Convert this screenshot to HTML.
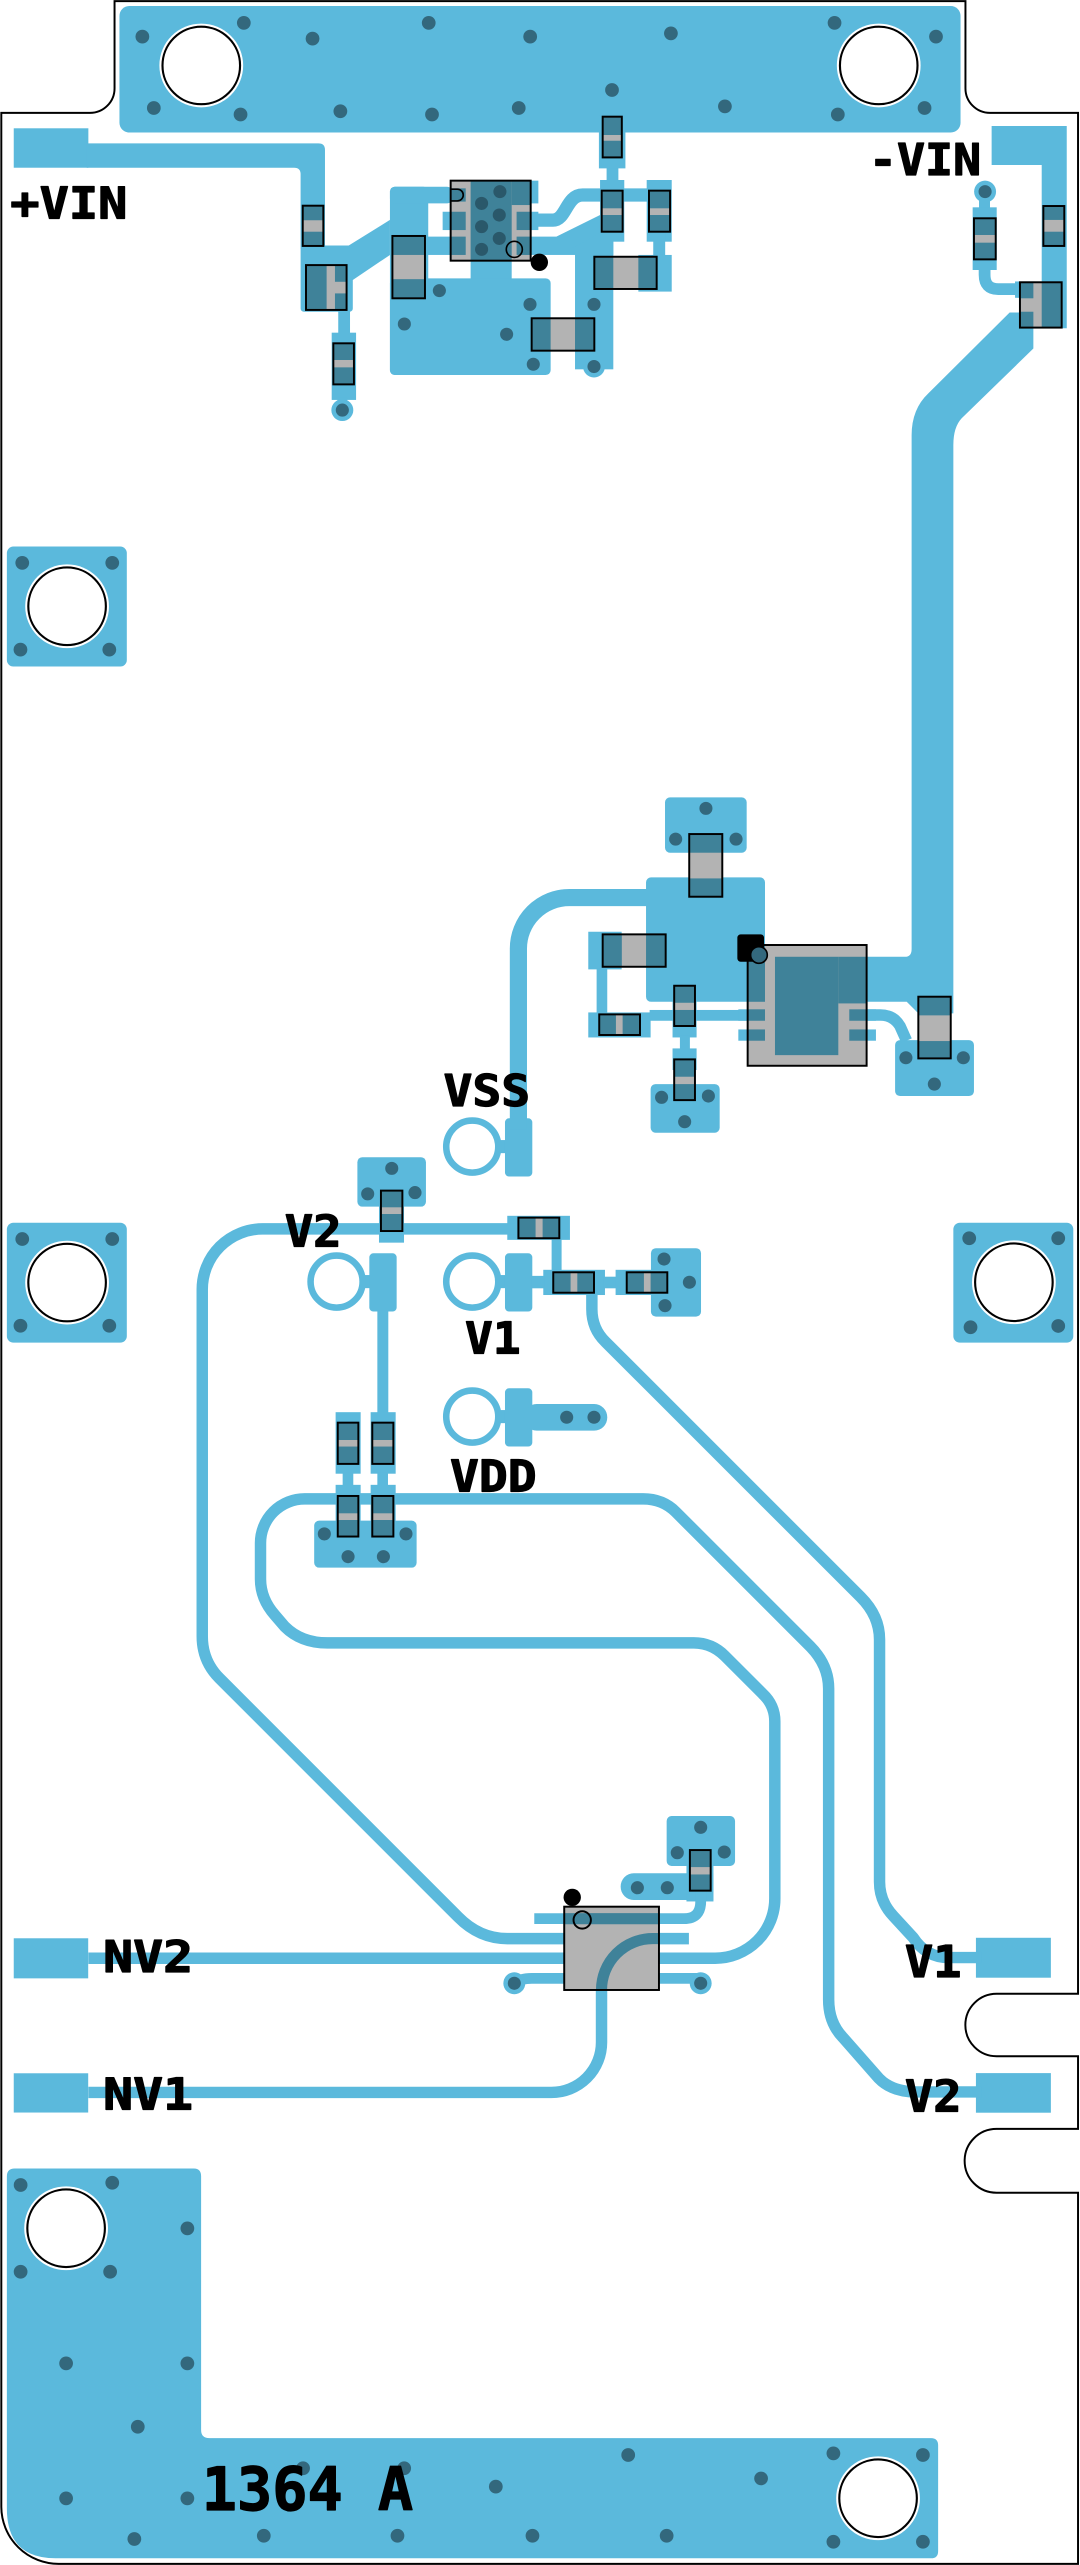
<!DOCTYPE html>
<html><head><meta charset="utf-8">
<style>
html,body{margin:0;padding:0;background:#fff;}
svg{display:block;}
text{font-family:"DejaVu Sans Mono","Liberation Mono",monospace;font-weight:bold;fill:#000;stroke:#000;stroke-width:0.7;stroke-linejoin:round;}
</style></head><body>
<svg width="1080" height="2565" viewBox="0 0 660 1567.5" preserveAspectRatio="none" xmlns="http://www.w3.org/2000/svg">
<defs>
<clipPath id="u3c"><rect x="344.8" y="1165.2" width="57.9" height="50.9"/></clipPath>
</defs>
<!-- board outline -->
<path d="M70,0.7 H590 V54 A15 15 0 0 0 605 69 H658.8 V1218.4 H609 A19.1 19.1 0 0 0 609 1256.6 H658.8 V1301 H609 A19.5 19.5 0 0 0 609 1340 H658.8 V1566.8 H36 A35 35 0 0 1 0.8 1532 V69 H55 A15 15 0 0 0 70 54 Z" fill="#fff" stroke="#000" stroke-width="1.2"/>

<!-- COPPER -->
<g fill="#5bb9dc">
<rect x="73" y="3.7" width="514" height="77.3" rx="6"/>
<!-- +VIN -->
<rect x="8.4" y="78.4" width="45.6" height="24.1"/>
<path d="M53,87.6 H194.6 Q198.6,87.6 198.6,91.6 V152 H183.7 V106.5 Q183.7,102.5 179.7,102.5 H53 Z"/>
<rect x="183.7" y="150" width="31.9" height="40.5" rx="2"/>
<polygon points="212,150.7 238.3,134.4 238.3,155.8 215.6,171.1 212,171.1"/>
<rect x="206.7" y="189" width="7.2" height="15"/>
<rect x="202.7" y="203.3" width="14.9" height="41.1"/>
<rect x="206.2" y="243" width="6" height="8"/>
<circle cx="209.2" cy="250.6" r="6.7"/>
<!-- U1 region -->
<rect x="238.3" y="114.1" width="23.4" height="115.1" rx="3"/>
<rect x="238.3" y="114.1" width="38" height="10.2" rx="3"/>
<rect x="261" y="144.6" width="113.8" height="11.2"/>
<rect x="287.6" y="155" width="25.1" height="16"/>
<rect x="238.3" y="170.1" width="98.2" height="59.1" rx="3"/>
<rect x="351.4" y="142" width="23.4" height="83.7"/>
<circle cx="363" cy="224" r="6.7"/>
<rect x="324" y="110.4" width="5" height="13.9"/>
<rect x="270.5" y="129.4" width="5" height="11.2"/>
<rect x="324" y="129.4" width="5" height="11.2"/>
<rect x="366.7" y="110" width="14.8" height="37.7"/>
<rect x="370.7" y="95" width="7.2" height="16"/>
<rect x="366" y="70.3" width="16.2" height="32.6"/>
<rect x="395.2" y="110" width="15.3" height="37.7"/>
<rect x="399.2" y="141.6" width="7.3" height="16"/>
<rect x="390.1" y="155.8" width="20.4" height="22.4"/>
<polygon points="340,144.6 366.7,131.4 366.7,142.5 350,151.5"/>
<!-- -VIN -->
<path d="M606,77 H651.9 V200.6 H636.6 V100.8 H606 Z"/>
<circle cx="602" cy="117.1" r="6.7"/>
<rect x="598.3" y="117" width="6.7" height="12"/>
<rect x="594.4" y="126.7" width="14.7" height="38.3"/>
<rect x="620.3" y="172" width="12" height="10"/>
<path d="M617,191 H631.5 V213 L587.7,255.6 Q582.6,261 582.6,272 V619.3 H561.2 L554.1,612.2 H529.6 V584.7 H553 Q557.1,584.7 557.1,580 V266 Q557.1,250 567.3,240.4 Z"/>
<!-- converter -->
<rect x="394.8" y="536.2" width="72.7" height="76" rx="3"/>
<rect x="406.4" y="487.3" width="49.9" height="33.8" rx="3"/>
<rect x="359.5" y="569.4" width="20.4" height="23"/>
<rect x="364.6" y="592" width="6.5" height="28"/>
<rect x="359.5" y="618.7" width="38.1" height="15.3"/>
<rect x="397" y="617.2" width="70.5" height="6.6"/>
<rect x="411" y="602.4" width="14.7" height="31.6"/>
<rect x="415.5" y="633" width="6.1" height="9"/>
<rect x="411" y="640.7" width="14.7" height="13.2"/>
<rect x="397.6" y="662.5" width="42.2" height="29.7" rx="3"/>
<rect x="451.2" y="616.8" width="16.3" height="7"/>
<rect x="451.2" y="629.1" width="16.3" height="6.9"/>
<rect x="519" y="616.8" width="16.3" height="7"/>
<rect x="519" y="629.1" width="16.3" height="6.9"/>
<rect x="547" y="635.6" width="48.2" height="34.2" rx="3"/>
<!-- test points -->
<rect x="304" y="696.7" width="5" height="8"/>
<rect x="308.6" y="683.4" width="16.7" height="35.6" rx="2.5"/>
<rect x="221" y="779.2" width="5" height="8"/>
<rect x="225.7" y="765.9" width="16.7" height="35.6" rx="2.5"/>
<rect x="304" y="779.2" width="5" height="8"/>
<rect x="308.6" y="765.9" width="16.7" height="35.6" rx="2.5"/>
<rect x="304" y="861.7" width="5" height="8"/>
<rect x="308.6" y="848.4" width="16.7" height="35.6" rx="2.5"/>
<rect x="320" y="858" width="51.1" height="16.3" rx="8"/>
<rect x="218.4" y="707.2" width="41.9" height="30.2" rx="3"/>
<rect x="231.6" y="727.6" width="15.3" height="31.8"/>
<rect x="310" y="743" width="38.3" height="14.7"/>
<rect x="337.1" y="756" width="6.1" height="22"/>
<rect x="332" y="776" width="37.7" height="15.4"/>
<rect x="325" y="779.7" width="8" height="7.6"/>
<rect x="369" y="780.2" width="8" height="7.1"/>
<rect x="376.2" y="776" width="22" height="15.4"/>
<rect x="397.8" y="762.8" width="30.6" height="41.8" rx="3"/>
<rect x="230.6" y="801" width="6.7" height="63"/>
<rect x="205.1" y="863" width="15.3" height="37.6"/>
<rect x="226.5" y="863" width="15.3" height="37.6"/>
<rect x="209.4" y="900" width="6.5" height="8.5"/>
<rect x="230.6" y="900" width="6.5" height="8.5"/>
<rect x="205.1" y="907.4" width="15.3" height="31.6"/>
<rect x="226.5" y="907.4" width="15.3" height="31.6"/>
<rect x="192" y="929.3" width="62.6" height="28.7" rx="3"/>
<!-- U3 area -->
<rect x="379.3" y="1144.8" width="56.7" height="16.3" rx="8"/>
<rect x="420" y="1144.8" width="16" height="16.3"/>
<rect x="419.5" y="1128" width="16.5" height="34"/>
<rect x="407.4" y="1109.8" width="41.8" height="30.5" rx="3"/>
<circle cx="314.3" cy="1212" r="6.7"/>
<circle cx="428.2" cy="1212" r="6.7"/>
<!-- connector pads -->
<rect x="8.4" y="1184.5" width="45.5" height="24.5"/>
<rect x="8.4" y="1267" width="45.5" height="24"/>
<rect x="596.4" y="1184.2" width="45.8" height="24.4"/>
<rect x="596.4" y="1266.9" width="45.8" height="24.2"/>
<!-- mount pads -->
<rect x="4.2" y="334" width="73.3" height="73.3" rx="4"/>
<rect x="4.2" y="747.2" width="73.3" height="73.3" rx="4"/>
<rect x="582.6" y="747.2" width="73.3" height="73.3" rx="4"/>
<path d="M4.2,1330 Q4.2,1325.2 9,1325.2 H118.5 Q122.9,1325.2 122.9,1330 V1485 Q122.9,1490 128,1490 H569 Q573.3,1490 573.3,1494.5 V1559 Q573.3,1563.4 569,1563.4 H34 Q4.2,1563.4 4.2,1533 Z"/>
</g>

<!-- stroked traces -->
<g fill="none" stroke="#5bb9dc" stroke-linejoin="round">
<path d="M322,134.5 H338 C346,134.5 346,119.2 356,119.2 H410" stroke-width="8.1"/>
<path d="M601.7,160 V168 Q601.7,176.7 610,176.7 H626" stroke-width="7.2"/>
<path d="M396,548.5 H348 A31.2 31.2 0 0 0 316.8 579.7 V690" stroke-width="10.5"/>
<path d="M530,620.3 H538 Q546,620.3 550,627 L554,636" stroke-width="7"/>
<circle cx="288.6" cy="700.7" r="15.9" stroke-width="4"/>
<circle cx="205.7" cy="783.2" r="15.9" stroke-width="4"/>
<circle cx="288.6" cy="783.2" r="15.9" stroke-width="4"/>
<circle cx="288.6" cy="865.7" r="15.9" stroke-width="4"/>
<path d="M320,751 H160.5 A36.9 36.9 0 0 0 123.6 787.9 V1000 Q123.6 1015 134 1025.5 L280 1171.5 Q293 1184.7 310 1184.7 H346" stroke-width="7"/>
<path d="M54,1196.7 H437 A36.5 36.5 0 0 0 473.5 1160.2 V1052 Q473.5 1042 466 1035 L443 1012 Q435 1004 424 1004 H200 Q184 1004 174 994 L168 987 Q159.2 977 159.2 965 V943 A27 27 0 0 1 186.2 916 H393 Q405 916 413 924 L495 1006 Q506.4 1017.5 506.4 1032 V1222 Q506.4 1236 515 1245 L537 1270 Q545 1278.4 560 1278.4 H600" stroke-width="7"/>
<path d="M361.7,789 V800 Q361.7 812 370 820 L526 976 Q537.5 987.5 537.5 1002 V1150 Q537.5 1162 546 1171 L558 1184 Q566 1196.3 580 1196.3 H600" stroke-width="7"/>
<path d="M54,1278.7 H337 A30.6 30.6 0 0 0 367.6 1248.1 V1216 A31.3 31.3 0 0 1 398.9 1184.7 H421" stroke-width="7"/>
<path d="M326.5,1172.5 H418 Q428.2,1172.5 428.2,1162 V1150" stroke-width="6.6"/>
<path d="M314.3,1212 Q318,1209 325,1209 H428.2" stroke-width="6.6"/>
</g>

<!-- holes -->
<g>
<circle cx="123" cy="40" r="25.6" fill="#fff"/><circle cx="123" cy="40" r="23.7" fill="#fff" stroke="#000" stroke-width="1.3"/>
<circle cx="537" cy="40" r="25.6" fill="#fff"/><circle cx="537" cy="40" r="23.7" fill="#fff" stroke="#000" stroke-width="1.3"/>
<circle cx="41" cy="370.5" r="25.6" fill="#fff"/><circle cx="41" cy="370.5" r="23.7" fill="#fff" stroke="#000" stroke-width="1.3"/>
<circle cx="41" cy="783.8" r="25.6" fill="#fff"/><circle cx="41" cy="783.8" r="23.7" fill="#fff" stroke="#000" stroke-width="1.3"/>
<circle cx="619.6" cy="783.6" r="25.6" fill="#fff"/><circle cx="619.6" cy="783.6" r="23.7" fill="#fff" stroke="#000" stroke-width="1.3"/>
<circle cx="40.4" cy="1361.7" r="25.6" fill="#fff"/><circle cx="40.4" cy="1361.7" r="23.7" fill="#fff" stroke="#000" stroke-width="1.3"/>
<circle cx="536.6" cy="1526.7" r="25.6" fill="#fff"/><circle cx="536.6" cy="1526.7" r="23.7" fill="#fff" stroke="#000" stroke-width="1.3"/>
</g>

<!-- vias -->
<g fill="#33687d">
<circle cx="149" cy="14" r="4.2"/><circle cx="87" cy="22.4" r="4.2"/><circle cx="191" cy="23.6" r="4.2"/><circle cx="262" cy="14" r="4.2"/>
<circle cx="324" cy="22.4" r="4.2"/><circle cx="410" cy="20.4" r="4.2"/><circle cx="510" cy="14" r="4.2"/><circle cx="572" cy="22.4" r="4.2"/>
<circle cx="374" cy="55" r="4.2"/><circle cx="94" cy="66" r="4.2"/><circle cx="147" cy="70" r="4.2"/><circle cx="208" cy="68" r="4.2"/>
<circle cx="264" cy="70" r="4.2"/><circle cx="317" cy="66" r="4.2"/><circle cx="443" cy="65" r="4.2"/><circle cx="512" cy="70" r="4.2"/><circle cx="565" cy="66" r="4.2"/>
<circle cx="209.2" cy="250.6" r="4"/><circle cx="602" cy="117.1" r="4"/>
<circle cx="268.5" cy="177.6" r="4"/><circle cx="247.1" cy="198" r="4"/><circle cx="309.6" cy="204.3" r="4"/>
<circle cx="323.9" cy="186" r="4"/><circle cx="325.9" cy="222.6" r="4"/><circle cx="363" cy="186" r="4"/><circle cx="363" cy="224" r="4"/>
<circle cx="431.4" cy="494" r="4"/><circle cx="412.9" cy="512.8" r="4"/><circle cx="449.8" cy="512.8" r="4"/>
<circle cx="404.3" cy="670.6" r="4"/><circle cx="432.9" cy="669.8" r="4"/><circle cx="418.4" cy="685.5" r="4"/>
<circle cx="553.6" cy="646.4" r="4"/><circle cx="588.7" cy="646.4" r="4"/><circle cx="571" cy="662.5" r="4"/>
<circle cx="239.4" cy="714" r="4"/><circle cx="224.7" cy="729.6" r="4"/><circle cx="253.6" cy="728.8" r="4"/>
<circle cx="405.8" cy="769.4" r="4"/><circle cx="421.3" cy="783.6" r="4"/><circle cx="406.4" cy="797.9" r="4"/>
<circle cx="346.3" cy="866.1" r="4"/><circle cx="363" cy="866.1" r="4"/>
<circle cx="198.2" cy="937.4" r="4"/><circle cx="248.1" cy="937.4" r="4"/><circle cx="212.7" cy="951.3" r="4"/><circle cx="234.3" cy="951.3" r="4"/>
<circle cx="389.5" cy="1153.6" r="4"/><circle cx="407.8" cy="1153.6" r="4"/>
<circle cx="428.2" cy="1116.7" r="4"/><circle cx="413.9" cy="1132.2" r="4"/><circle cx="442.6" cy="1131.8" r="4"/>
<circle cx="314.3" cy="1212" r="4"/><circle cx="428.2" cy="1212" r="4"/>
<circle cx="13.6" cy="344" r="4.2"/><circle cx="68.6" cy="344" r="4.2"/><circle cx="12.5" cy="397" r="4.2"/><circle cx="66.8" cy="397" r="4.2"/>
<circle cx="13.6" cy="757.2" r="4.2"/><circle cx="68.6" cy="757.2" r="4.2"/><circle cx="12.5" cy="810.2" r="4.2"/><circle cx="66.8" cy="810.2" r="4.2"/>
<circle cx="592.3" cy="756.7" r="4.2"/><circle cx="646.7" cy="756.7" r="4.2"/><circle cx="593.1" cy="811.1" r="4.2"/><circle cx="646.7" cy="810.3" r="4.2"/>
<circle cx="12.6" cy="1335.3" r="4.2"/><circle cx="68.6" cy="1333.9" r="4.2"/><circle cx="114.5" cy="1361.8" r="4.2"/>
<circle cx="12.6" cy="1388.3" r="4.2"/><circle cx="67.3" cy="1388.3" r="4.2"/><circle cx="40.4" cy="1444.3" r="4.2"/>
<circle cx="114.5" cy="1444.3" r="4.2"/><circle cx="84.2" cy="1483" r="4.2"/><circle cx="40.4" cy="1526.8" r="4.2"/>
<circle cx="114.5" cy="1526.8" r="4.2"/><circle cx="82.1" cy="1551.6" r="4.2"/><circle cx="185.2" cy="1508.4" r="4.2"/>
<circle cx="247" cy="1508.4" r="4.2"/><circle cx="303" cy="1519.6" r="4.2"/><circle cx="383.9" cy="1500.3" r="4.2"/>
<circle cx="465.1" cy="1514.6" r="4.2"/><circle cx="509.3" cy="1499.3" r="4.2"/><circle cx="564" cy="1500.3" r="4.2"/>
<circle cx="161.2" cy="1549.6" r="4.2"/><circle cx="242.9" cy="1549.6" r="4.2"/><circle cx="325.4" cy="1549.6" r="4.2"/>
<circle cx="407.4" cy="1549.6" r="4.2"/><circle cx="509.3" cy="1553.3" r="4.2"/><circle cx="564" cy="1553.3" r="4.2"/>
</g>

<!-- COMPONENTS -->
<g stroke="none">
<rect x="185" y="125.7" width="12.6" height="24.6" fill="#3f8299"/><rect x="185" y="134.6" width="12.6" height="7" fill="#b3b3b3"/>
<rect x="187" y="162" width="24.8" height="27.4" fill="#b3b3b3"/><rect x="187" y="162" width="12.6" height="27.4" fill="#3f8299"/>
<rect x="204.7" y="162" width="7.1" height="10.2" fill="#3f8299"/><rect x="204.7" y="179.3" width="7.1" height="10.1" fill="#3f8299"/>
<rect x="203.7" y="209.8" width="12.6" height="25.1" fill="#3f8299"/><rect x="203.7" y="220" width="12.6" height="4.5" fill="#b3b3b3"/>
<rect x="239.8" y="144.2" width="19.9" height="38.1" fill="#3f8299"/><rect x="239.8" y="155.8" width="19.9" height="14.8" fill="#b3b3b3"/>
<rect x="367.7" y="116.5" width="12.8" height="25.1" fill="#3f8299"/><rect x="367.7" y="127.3" width="12.8" height="4.1" fill="#b3b3b3"/>
<rect x="396.6" y="116.5" width="12.9" height="25.1" fill="#3f8299"/><rect x="396.6" y="127.3" width="12.9" height="4.1" fill="#b3b3b3"/>
<rect x="368.3" y="71.3" width="11.7" height="24.9" fill="#3f8299"/><rect x="368.3" y="82.5" width="11.7" height="3.5" fill="#b3b3b3"/>
<rect x="363.2" y="156.9" width="38.1" height="19.7" fill="#3f8299"/><rect x="374.8" y="156.9" width="15.3" height="19.7" fill="#b3b3b3"/>
<rect x="324.9" y="194.5" width="38.3" height="19.8" fill="#3f8299"/><rect x="336.5" y="194.5" width="14.9" height="19.8" fill="#b3b3b3"/>
<rect x="637.6" y="125.9" width="12.8" height="24.4" fill="#3f8299"/><rect x="637.6" y="134.4" width="12.8" height="7.2" fill="#b3b3b3"/>
<rect x="595.2" y="133.4" width="13.3" height="25.1" fill="#3f8299"/><rect x="595.2" y="143.6" width="13.3" height="4.7" fill="#b3b3b3"/>
<rect x="623.3" y="172.5" width="25.5" height="27.7" fill="#b3b3b3"/><rect x="636.6" y="172.5" width="12.2" height="27.7" fill="#3f8299"/>
<rect x="623.3" y="172.5" width="8.2" height="9.8" fill="#3f8299"/><rect x="623.3" y="190.5" width="8.2" height="9.7" fill="#3f8299"/>
<rect x="421.2" y="509.7" width="20.2" height="38.3" fill="#3f8299"/><rect x="421.2" y="521.1" width="20.2" height="15.7" fill="#b3b3b3"/>
<rect x="368.3" y="571" width="38.5" height="19.8" fill="#3f8299"/><rect x="380" y="571" width="14.8" height="19.8" fill="#b3b3b3"/>
<rect x="366.2" y="619.9" width="24.9" height="12.6" fill="#3f8299"/><rect x="376.4" y="619.9" width="4.1" height="12.6" fill="#b3b3b3"/>
<rect x="412" y="602.4" width="12.7" height="24.6" fill="#3f8299"/><rect x="412" y="612.8" width="12.7" height="4.4" fill="#b3b3b3"/>
<rect x="412" y="647.4" width="12.7" height="24.9" fill="#3f8299"/><rect x="412" y="658" width="12.7" height="4.5" fill="#b3b3b3"/>
<rect x="561.2" y="609.1" width="19.8" height="37.7" fill="#3f8299"/><rect x="561.2" y="620.5" width="19.8" height="15.7" fill="#b3b3b3"/>
<rect x="232.8" y="727.6" width="13.1" height="24.7" fill="#3f8299"/><rect x="232.8" y="737.8" width="13.1" height="4.1" fill="#b3b3b3"/>
<rect x="316.8" y="744.1" width="25" height="12.6" fill="#3f8299"/><rect x="327.3" y="744.1" width="4.3" height="12.6" fill="#b3b3b3"/>
<rect x="338.1" y="777.5" width="24.9" height="12.5" fill="#3f8299"/><rect x="348.7" y="777.5" width="4.1" height="12.5" fill="#b3b3b3"/>
<rect x="383" y="777.5" width="24.8" height="12.5" fill="#3f8299"/><rect x="393.5" y="777.5" width="4.1" height="12.5" fill="#b3b3b3"/>
<rect x="206.4" y="869.4" width="12.6" height="25.2" fill="#3f8299"/><rect x="206.4" y="880" width="12.6" height="4" fill="#b3b3b3"/>
<rect x="227.5" y="869.4" width="12.9" height="25.2" fill="#3f8299"/><rect x="227.5" y="880" width="12.9" height="4" fill="#b3b3b3"/>
<rect x="206.4" y="914.2" width="12.6" height="24.8" fill="#3f8299"/><rect x="206.4" y="924.8" width="12.6" height="4.1" fill="#b3b3b3"/>
<rect x="227.5" y="914.2" width="12.9" height="24.8" fill="#3f8299"/><rect x="227.5" y="924.8" width="12.9" height="4.1" fill="#b3b3b3"/>
<rect x="421.6" y="1130.6" width="12.7" height="24.8" fill="#3f8299"/><rect x="421.6" y="1141" width="12.7" height="4.5" fill="#b3b3b3"/>
</g>
<g fill="none" stroke="#000" stroke-width="1.2">
<rect x="185" y="125.7" width="12.6" height="24.6"/>
<rect x="187" y="162" width="24.8" height="27.4"/>
<rect x="203.7" y="209.8" width="12.6" height="25.1"/>
<rect x="239.8" y="144.2" width="19.9" height="38.1"/>
<rect x="367.7" y="116.5" width="12.8" height="25.1"/>
<rect x="396.6" y="116.5" width="12.9" height="25.1"/>
<rect x="368.3" y="71.3" width="11.7" height="24.9"/>
<rect x="363.2" y="156.9" width="38.1" height="19.7"/>
<rect x="324.9" y="194.5" width="38.3" height="19.8"/>
<rect x="637.6" y="125.9" width="12.8" height="24.4"/>
<rect x="595.2" y="133.4" width="13.3" height="25.1"/>
<rect x="623.3" y="172.5" width="25.5" height="27.7"/>
<rect x="421.2" y="509.7" width="20.2" height="38.3"/>
<rect x="368.3" y="571" width="38.5" height="19.8"/>
<rect x="366.2" y="619.9" width="24.9" height="12.6"/>
<rect x="412" y="602.4" width="12.7" height="24.6"/>
<rect x="412" y="647.4" width="12.7" height="24.9"/>
<rect x="561.2" y="609.1" width="19.8" height="37.7"/>
<rect x="232.8" y="727.6" width="13.1" height="24.7"/>
<rect x="316.8" y="744.1" width="25" height="12.6"/>
<rect x="338.1" y="777.5" width="24.9" height="12.5"/>
<rect x="383" y="777.5" width="24.8" height="12.5"/>
<rect x="206.4" y="869.4" width="12.6" height="25.2"/>
<rect x="227.5" y="869.4" width="12.9" height="25.2"/>
<rect x="206.4" y="914.2" width="12.6" height="24.8"/>
<rect x="227.5" y="914.2" width="12.9" height="24.8"/>
<rect x="421.6" y="1130.6" width="12.7" height="24.8"/>
</g>

<!-- U1 -->
<rect x="275.4" y="110.4" width="48.9" height="48.9" fill="#b3b3b3"/>
<rect x="287.6" y="110.4" width="25.1" height="48.9" fill="#3f8299"/>
<rect x="312.7" y="110.4" width="11.6" height="14.9" fill="#3f8299"/>
<rect x="275.4" y="115.1" width="9.2" height="8.1" fill="#3f8299"/>
<rect x="275.4" y="129.4" width="9.2" height="11.2" fill="#3f8299"/>
<rect x="275.4" y="144.6" width="9.2" height="11.2" fill="#3f8299"/>
<rect x="315.7" y="129.4" width="8.6" height="11.2" fill="#3f8299"/>
<rect x="315.7" y="144.6" width="8.6" height="11.2" fill="#3f8299"/>
<g fill="#2a586a">
<circle cx="305.5" cy="117.1" r="4"/><circle cx="294.3" cy="124.3" r="4"/><circle cx="305.1" cy="131.4" r="4"/>
<circle cx="294.3" cy="138.5" r="4"/><circle cx="305.1" cy="145.7" r="4"/><circle cx="294.3" cy="152.4" r="4"/>
</g>
<path d="M275.4,115.6 H279.5 A3.6 3.6 0 0 1 279.5 122.8 H275.4" fill="none" stroke="#000" stroke-width="1"/>
<circle cx="314.3" cy="152.4" r="4.9" fill="none" stroke="#000" stroke-width="1"/>
<rect x="275.4" y="110.4" width="48.9" height="48.9" fill="none" stroke="#000" stroke-width="1.2"/>
<circle cx="329.6" cy="160.3" r="5.3" fill="#000"/>

<!-- U2 -->
<rect x="456.9" y="577.5" width="72.7" height="73.8" fill="#b3b3b3"/>
<rect x="456.9" y="577.5" width="10.6" height="34.7" fill="#3f8299"/>
<rect x="473.6" y="584.7" width="38.7" height="60.1" fill="#3f8299"/>
<rect x="512.3" y="584.7" width="17.3" height="28.5" fill="#3f8299"/>
<rect x="456.9" y="616.8" width="10.6" height="7" fill="#3f8299"/>
<rect x="456.9" y="629.1" width="10.6" height="6.9" fill="#3f8299"/>
<rect x="519" y="616.8" width="10.6" height="7" fill="#3f8299"/>
<rect x="519" y="629.1" width="10.6" height="6.9" fill="#3f8299"/>
<rect x="456.9" y="577.5" width="72.7" height="73.8" fill="none" stroke="#000" stroke-width="1.2"/>
<rect x="450.6" y="571" width="16.3" height="16.7" rx="2" fill="#000"/>
<circle cx="463.8" cy="583.6" r="5.1" fill="#33687d" stroke="#000" stroke-width="1"/>

<!-- U3 -->
<rect x="344.8" y="1165.2" width="57.9" height="50.9" fill="#b3b3b3"/>
<g clip-path="url(#u3c)" fill="none" stroke="#3f8299" stroke-width="6.8">
<path d="M330,1172.5 H420"/>
<path d="M367.6,1220 V1216 A31.3 31.3 0 0 1 398.9 1184.7 H410"/>
</g>
<rect x="344.8" y="1165.2" width="57.9" height="50.9" fill="none" stroke="#000" stroke-width="1.2"/>
<circle cx="349.7" cy="1159.5" r="5.3" fill="#000"/>
<circle cx="355.8" cy="1173.3" r="5.3" fill="none" stroke="#000" stroke-width="1.2"/>

<!-- LABELS -->
<text x="6.3" y="133.4" font-size="26.5" textLength="71.6" lengthAdjust="spacingAndGlyphs">+VIN</text>
<text x="531" y="107" font-size="26.5" textLength="68.6" lengthAdjust="spacingAndGlyphs">-VIN</text>
<text x="271" y="676" font-size="26.5" textLength="53" lengthAdjust="spacingAndGlyphs">VSS</text>
<text x="174" y="761.8" font-size="26.5" textLength="34.8" lengthAdjust="spacingAndGlyphs">V2</text>
<text x="284.2" y="827" font-size="26.5" textLength="34" lengthAdjust="spacingAndGlyphs">V1</text>
<text x="275" y="911.5" font-size="26.5" textLength="53" lengthAdjust="spacingAndGlyphs">VDD</text>
<text x="63" y="1205" font-size="26.5" textLength="55" lengthAdjust="spacingAndGlyphs">NV2</text>
<text x="63" y="1289" font-size="26.5" textLength="55" lengthAdjust="spacingAndGlyphs">NV1</text>
<text x="553" y="1208.2" font-size="26.5" textLength="34.6" lengthAdjust="spacingAndGlyphs">V1</text>
<text x="553" y="1290.4" font-size="26.5" textLength="34.6" lengthAdjust="spacingAndGlyphs">V2</text>
<text x="123.3" y="1533.9" font-size="36.4" textLength="129.2" lengthAdjust="spacingAndGlyphs">1364 A</text>
</svg>
</body></html>
